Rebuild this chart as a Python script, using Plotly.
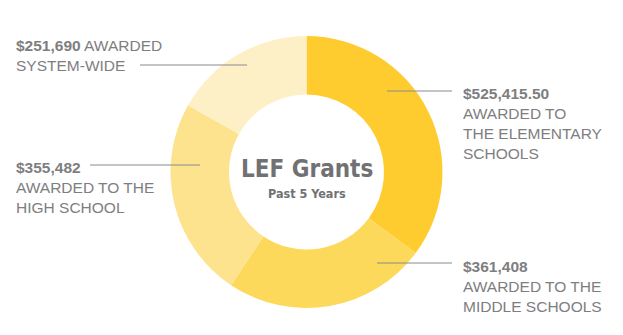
import plotly.graph_objects as go

W, H = 623, 335

categories = ["Elementary Schools", "Middle Schools", "High School", "System-Wide"]
values = [525415.50, 361408, 355482, 251690]
colors = ["#FFCC2F", "#FDD95B", "#FDE38D", "#FEF0C6"]

label_texts = [
    "<b>$525,415.50</b><br>AWARDED TO<br>THE ELEMENTARY<br>SCHOOLS",
    "<b>$361,408</b><br>AWARDED TO THE<br>MIDDLE SCHOOLS",
    "<b>$355,482</b><br>AWARDED TO THE<br>HIGH SCHOOL",
    "<b>$251,690</b> AWARDED<br>SYSTEM-WIDE",
]
# label block anchor (px, left x, center y) and leader lines (x0, x1, y) in px
label_pos = [(461, 123), (461, 286.5), (14, 187.5), (14, 56)]
leader = [(387, 452, 91), (377, 452, 263), (90, 200, 165), (140, 247, 65)]

title = "LEF Grants"
subtitle = "Past 5 Years"

cx, cy, r = 306.5, 172, 136


def px(x):
    return x / W


def py(y):
    return (H - y) / H


fig = go.Figure(
    go.Pie(
        labels=categories,
        values=values,
        marker=dict(colors=colors, line=dict(width=0)),
        hole=0.57,
        sort=False,
        direction="clockwise",
        rotation=0,
        textinfo="none",
        hoverinfo="label+value",
        domain=dict(x=[px(cx - r), px(cx + r)], y=[py(cy + r), py(cy - r)]),
        showlegend=False,
    )
)

text_color = "#7e7e80"
annotations = []
for txt, (lx, ly) in zip(label_texts, label_pos):
    annotations.append(
        dict(
            text=txt, x=px(lx), y=py(ly), xref="paper", yref="paper",
            xanchor="left", yanchor="middle", align="left", showarrow=False,
            font=dict(family="Liberation Sans, Arial, sans-serif", size=15.5, color=text_color),
        )
    )

narrow = "DejaVu Sans Condensed, Arial Narrow, sans-serif"
annotations.append(
    dict(text=f"<b>{title}</b>", x=px(cx), y=py(169), xref="paper", yref="paper",
         xanchor="center", yanchor="middle", showarrow=False,
         font=dict(family=narrow, size=24, color="#717173"))
)
annotations.append(
    dict(text=f"<b>{subtitle}</b>", x=px(cx), y=py(193), xref="paper", yref="paper",
         xanchor="center", yanchor="middle", showarrow=False,
         font=dict(family=narrow, size=12.5, color="#717173"))
)

shapes = []
for x0, x1, y in leader:
    shapes.append(
        dict(type="line", xref="paper", yref="paper", x0=px(x0), x1=px(x1), y0=py(y), y1=py(y),
             line=dict(color="#8a8a8c", width=1))
    )

fig.update_layout(
    width=W, height=H,
    margin=dict(l=0, r=0, t=0, b=0),
    paper_bgcolor="white", plot_bgcolor="white",
    annotations=annotations, shapes=shapes,
)

fig.write_html("out.html")
